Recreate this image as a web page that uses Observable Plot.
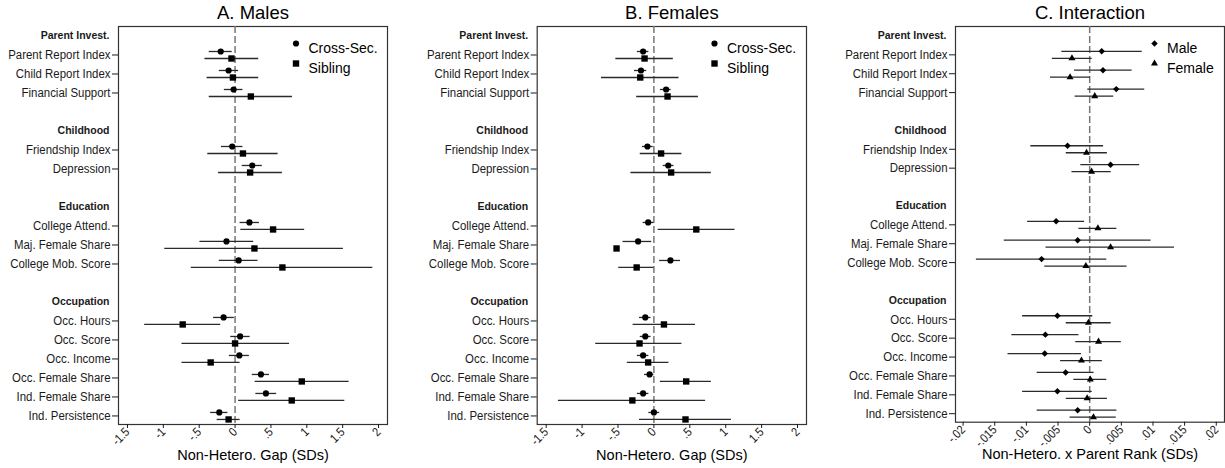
<!DOCTYPE html>
<html>
<head>
<meta charset="utf-8">
<script src="https://cdn.jsdelivr.net/npm/d3@7"></script>
<script src="https://cdn.jsdelivr.net/npm/@observablehq/plot@0.6"></script>
<style>
  html, body { margin: 0; padding: 0; background: #fff; }
  #wrap { display: flex; width: 1225px; height: 468px; overflow: hidden; }
  #wrap svg { display: block; }
</style>
</head>
<body>
<div id="wrap"></div>
<script>
// ---------- categories ----------
const groups = ["Parent Invest.", "Childhood", "Education", "Occupation"];
const groupItems = [
  ["Parent Report Index", "Child Report Index", "Financial Support"],
  ["Friendship Index", "Depression"],
  ["College Attend.", "Maj. Female Share", "College Mob. Score"],
  ["Occ. Hours", "Occ. Score", "Occ. Income", "Occ. Female Share", "Ind. Female Share", "Ind. Persistence"]
];

// ---------- Panel A: Males ----------
const maleCS     = [-0.20, -0.09, -0.02, -0.04, 0.24, 0.20, -0.12, 0.05, -0.16, 0.07, 0.06, 0.36, 0.43, -0.22];
const maleCSlo   = [-0.36, -0.22, -0.15, -0.19, 0.10, 0.07, -0.49, -0.22, -0.30, -0.06, -0.08, 0.24, 0.29, -0.34];
const maleCShi   = [-0.04, 0.05, 0.11, 0.11, 0.38, 0.34, 0.26, 0.32, -0.01, 0.21, 0.20, 0.48, 0.58, -0.10];
const maleSib    = [-0.05, -0.03, 0.22, 0.11, 0.21, 0.53, 0.27, 0.66, -0.73, 0.00, -0.34, 0.93, 0.79, -0.09];
const maleSiblo  = [-0.42, -0.39, -0.36, -0.38, -0.23, 0.08, -0.98, -0.61, -1.26, -0.74, -0.74, 0.28, 0.05, -0.25];
const maleSibhi  = [0.33, 0.33, 0.80, 0.60, 0.66, 0.97, 1.51, 1.92, -0.20, 0.76, 0.07, 1.59, 1.53, 0.07];

// ---------- Panel B: Females ----------
const femCS      = [-0.15, -0.18, 0.17, -0.09, 0.20, -0.08, -0.22, 0.23, -0.12, -0.12, -0.15, -0.06, -0.15, 0.00];
const femCSlo    = [-0.23, -0.27, 0.09, -0.16, 0.13, -0.15, -0.43, 0.08, -0.20, -0.19, -0.23, -0.13, -0.23, -0.07];
const femCShi    = [-0.07, -0.10, 0.24, -0.01, 0.28, 0.00, -0.03, 0.37, -0.04, -0.04, -0.07, 0.00, -0.07, 0.08];
const femSib     = [-0.13, -0.19, 0.19, 0.10, 0.24, 0.59, -0.52, -0.24, 0.14, -0.20, -0.08, 0.45, -0.30, 0.44];
const femSiblo   = [-0.53, -0.73, -0.24, -0.19, -0.32, 0.06, -0.55, -0.49, -0.29, -0.81, -0.37, 0.09, -1.33, -0.20];
const femSibhi   = [0.27, 0.35, 0.62, 0.39, 0.80, 1.13, -0.49, 0.00, 0.58, 0.39, 0.21, 0.80, 0.72, 1.08];

// ---------- Panel C: Interaction ----------
const intMale    = [0.0019, 0.0021, 0.0042, -0.0035, 0.0033, -0.0053, -0.0019, -0.0076, -0.0051, -0.0070, -0.0071, -0.0038, -0.0051, -0.0019];
const intMalelo  = [-0.0044, -0.0024, -0.0003, -0.0093, -0.0014, -0.0098, -0.0135, -0.0179, -0.0106, -0.0123, -0.0129, -0.0083, -0.0106, -0.0083];
const intMalehi  = [0.0083, 0.0067, 0.0087, 0.0022, 0.0079, -0.0008, 0.0097, 0.0027, 0.0005, -0.0017, -0.0013, 0.0007, 0.0004, 0.0043];
const intFem     = [-0.0028, -0.0031, 0.0008, -0.0005, 0.0003, 0.0013, 0.0033, -0.0006, -0.0002, 0.0014, -0.0013, 0.0001, -0.0004, 0.0006];
const intFemlo   = [-0.0059, -0.0062, -0.0023, -0.0037, -0.0028, -0.0017, -0.0069, -0.0071, -0.0037, -0.0022, -0.0046, -0.0025, -0.0037, -0.0031];
const intFemhi   = [0.0004, 0.0001, 0.0038, 0.0028, 0.0034, 0.0043, 0.0134, 0.0059, 0.0034, 0.0050, 0.0020, 0.0027, 0.0028, 0.0042];

// ---------- tick labels ----------
const gapTicks       = [-1.5, -1, -0.5, 0, 0.5, 1, 1.5, 2];
const gapTickLabels  = ["-1.5", "-1", "-.5", "0", ".5", "1", "1.5", "2"];
const intTicks       = [-0.02, -0.015, -0.01, -0.005, 0, 0.005, 0.01, 0.015, 0.02];
const intTickLabels  = ["-.02", "-.015", "-.01", "-.005", "0", ".005", ".01", ".015", ".02"];

const titles = ["A. Males", "B. Females", "C. Interaction"];
const xLabels = ["Non-Hetero. Gap (SDs)", "Non-Hetero. Gap (SDs)", "Non-Hetero. x Parent Rank (SDs)"];
const legendAB = ["Cross-Sec.", "Sibling"];
const legendC = ["Male", "Female"];

// ---------- row layout derived from the category order ----------
const headerRows = [];
const itemRows = [];
{
  let p = 0;
  groups.forEach((g, gi) => {
    headerRows.push({label: g, pos: p});
    p += 1;
    groupItems[gi].forEach(it => { itemRows.push({label: it, pos: p}); p += 1; });
    p += 1;
  });
}
const labelAt = new Map(itemRows.map(d => [d.pos, d.label]));
const itemPos = itemRows.map(d => d.pos);

function series(est, lo, hi) {
  return itemRows.map((r, i) => ({label: r.label, pos: r.pos, est: est[i], lo: lo[i], hi: hi[i]}));
}

const FONT = "'Liberation Sans', Arial, Helvetica, sans-serif";

// horizontally condense text (Helvetica-narrow look of the original)
function squeeze(svg, selector, sx) {
  svg.querySelectorAll(selector).forEach(t => {
    const tr = t.getAttribute("transform");
    if (tr) {
      t.setAttribute("transform", tr + ` scale(${sx},1)`);
    } else {
      const x = +(t.getAttribute("x") || 0), y = +(t.getAttribute("y") || 0);
      t.removeAttribute("x"); t.removeAttribute("y");
      t.setAttribute("transform", `translate(${x},${y}) scale(${sx},1)`);
    }
  });
}

function panel(cfg) {
  const {width, marginLeft, marginRight, marginBottom, domain, ticks, tickLabels,
         title, xLabel, s1, s2, sym1, sym2, r1, r2, legend, legDx, labelDy} = cfg;
  const fmt = new Map(ticks.map((t, i) => [t, tickLabels[i]]));
  const lineStyle = {stroke: "#2a2a2a", strokeWidth: 1.3};
  const svg = Plot.plot({
    width, height: 468,
    marginTop: 26, marginBottom, marginLeft, marginRight,
    style: {fontFamily: FONT, color: "#1a1a1a", background: "#fff"},
    x: {domain},
    y: {domain: [-0.5, 20.45], reverse: true},
    marks: [
      Plot.frame({stroke: "#333", strokeWidth: 1.2}),
      Plot.ruleX([0], {stroke: "#777", strokeWidth: 1.5, strokeDasharray: "7,3"}),
      Plot.axisY({ticks: itemPos, tickFormat: d => labelAt.get(d), tickSize: 6, tickPadding: 2, label: null, fontSize: 13.3}),
      Plot.axisX({ticks, tickFormat: d => fmt.get(d), tickRotate: -45, tickSize: 4, tickPadding: 1.5, label: null, fontSize: 12.5}),
      Plot.text(headerRows, {y: "pos", text: "label", frameAnchor: "left", dx: -9, textAnchor: "end", fontWeight: "bold", fontSize: 10.5}),
      Plot.ruleY(s1, {y: "pos", x1: "lo", x2: "hi", dy: -3.5, ...lineStyle}),
      Plot.ruleY(s2, {y: "pos", x1: "lo", x2: "hi", dy: 3.5, ...lineStyle}),
      Plot.dot(s1, {x: "est", y: "pos", dy: -3.5, symbol: sym1, r: r1, fill: "#000", stroke: "none"}),
      Plot.dot(s2, {x: "est", y: "pos", dy: 3.5, symbol: sym2, r: r2, fill: "#000", stroke: "none"}),
      Plot.text([title], {text: d => d, frameAnchor: "top", dy: -8, lineAnchor: "bottom", fontSize: 18.5, fill: "#000"}),
      Plot.text([xLabel], {text: d => d, frameAnchor: "bottom", dy: labelDy, lineAnchor: "middle", fontSize: 14.5, fill: "#000", ariaLabel: "axtitle"}),
      Plot.dot([legend[0]], {frameAnchor: "top-right", dx: legDx, dy: 17, symbol: sym1, r: r1, fill: "#000", stroke: "none"}),
      Plot.dot([legend[1]], {frameAnchor: "top-right", dx: legDx, dy: 37, symbol: sym2, r: r2, fill: "#000", stroke: "none"}),
      Plot.text([legend[0]], {text: d => d, frameAnchor: "top-right", dx: legDx + 12.5, dy: 17, textAnchor: "start", fontSize: 14, fill: "#000", ariaLabel: "legtext"}),
      Plot.text([legend[1]], {text: d => d, frameAnchor: "top-right", dx: legDx + 12.5, dy: 37, textAnchor: "start", fontSize: 14, fill: "#000", ariaLabel: "legtext"})
    ]
  });
  squeeze(svg, 'g[aria-label="y-axis tick label"] text', 0.86);
  squeeze(svg, 'g[aria-label="x-axis tick label"] text', 0.86);
  squeeze(svg, 'g[aria-label="axtitle"] text', 0.915);
  squeeze(svg, 'g[aria-label="legtext"] text', 0.94);
  return svg;
}

const wrap = document.getElementById("wrap");
wrap.append(panel({
  width: 410, marginLeft: 118, marginRight: 23, marginBottom: 44,
  domain: [-1.625, 2.125], ticks: gapTicks, tickLabels: gapTickLabels,
  title: titles[0], xLabel: xLabels[0],
  s1: series(maleCS, maleCSlo, maleCShi), s2: series(maleSib, maleSiblo, maleSibhi),
  sym1: "circle", sym2: "square", r1: 3.1, r2: 3.6,
  legend: legendAB, legDx: -91.5, labelDy: 30.5
}));
wrap.append(panel({
  width: 410, marginLeft: 126.7, marginRight: 14, marginBottom: 44,
  domain: [-1.625, 2.125], ticks: gapTicks, tickLabels: gapTickLabels,
  title: titles[1], xLabel: xLabels[1],
  s1: series(femCS, femCSlo, femCShi), s2: series(femSib, femSiblo, femSibhi),
  sym1: "circle", sym2: "square", r1: 3.1, r2: 3.6,
  legend: legendAB, legDx: -92, labelDy: 30.5
}));
wrap.append(panel({
  width: 405, marginLeft: 135, marginRight: 1, marginBottom: 46.3,
  domain: [-0.0212, 0.0213], ticks: intTicks, tickLabels: intTickLabels,
  title: titles[2], xLabel: xLabels[2],
  s1: series(intMale, intMalelo, intMalehi), s2: series(intFem, intFemlo, intFemhi),
  sym1: "diamond2", sym2: "triangle", r1: 2.9, r2: 2.6,
  legend: legendC, legDx: -70, labelDy: 32
}));
</script>
</body>
</html>
